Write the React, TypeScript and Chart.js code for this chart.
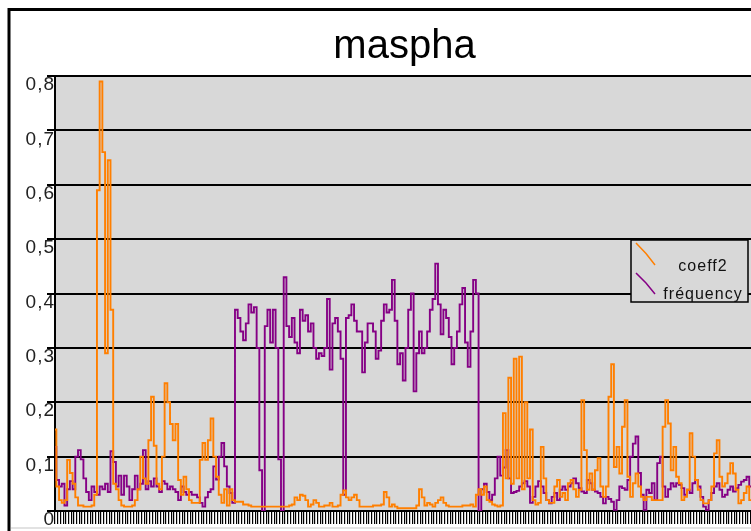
import React, { useEffect, useRef } from 'react';
import { Chart, registerables } from 'chart.js';

Chart.register(...registerables);

const chartTitle = 'maspha';
const seriesNames = ['coeff2', 'fréquency'];
const seriesColors = ['#ff7f00', '#850085'];

const yTickLabels = ['0', '0,1', '0,2', '0,3', '0,4', '0,5', '0,6', '0,7', '0,8'];

const coeff2 = [
  0.15, 0.045, 0.02, 0.015, 0.02, 0.094, 0.07, 0.05, 0.025, 0.01,
  0.01, 0.008, 0.008, 0.008, 0.01, 0.03, 0.59, 0.79, 0.66, 0.29,
  0.645, 0.37, 0.05, 0.04, 0.02, 0.01, 0.008, 0.008, 0.008, 0.01,
  0.02, 0.04, 0.1, 0.06, 0.05, 0.13, 0.21, 0.12, 0.05, 0.04,
  0.1, 0.235, 0.2, 0.16, 0.13, 0.16, 0.057, 0.03, 0.063, 0.04,
  0.02, 0.015, 0.015, 0.015, 0.094, 0.125, 0.094, 0.13, 0.17, 0.1,
  0.063, 0.03, 0.015, 0.04, 0.01, 0.04, 0.02, 0.017, 0.017, 0.017,
  0.012, 0.012, 0.01, 0.008, 0.008, 0.008, 0.008, 0.008, 0.008, 0.008,
  0.008, 0.008, 0.008, 0.008, 0.008, 0.008, 0.008, 0.01, 0.012, 0.025,
  0.02, 0.03, 0.028, 0.02, 0.008, 0.012, 0.02, 0.015, 0.008, 0.008,
  0.01, 0.01, 0.015, 0.008, 0.008, 0.01, 0.03, 0.038, 0.025, 0.02,
  0.025, 0.03, 0.02, 0.008, 0.008, 0.008, 0.008, 0.008, 0.01, 0.01,
  0.01, 0.012, 0.035, 0.025, 0.008, 0.012, 0.008, 0.005, 0.005, 0.005,
  0.005, 0.005, 0.005, 0.005, 0.01, 0.04, 0.025, 0.01, 0.015, 0.012,
  0.008, 0.015, 0.02, 0.025, 0.015, 0.01, 0.008, 0.008, 0.008, 0.008,
  0.008, 0.01, 0.01, 0.01, 0.012, 0.008, 0.03, 0.04, 0.03, 0.045,
  0.02, 0.017, 0.012, 0.01, 0.008, 0.01, 0.18, 0.06, 0.245, 0.05,
  0.28, 0.06, 0.284, 0.04, 0.2, 0.06, 0.15, 0.02, 0.012, 0.015,
  0.118, 0.06, 0.02, 0.015, 0.015, 0.045, 0.057, 0.026, 0.033, 0.02,
  0.051, 0.057, 0.04, 0.026, 0.039, 0.204, 0.112, 0.039, 0.069, 0.039,
  0.075, 0.097, 0.045, 0.026, 0.045, 0.21, 0.27, 0.081, 0.118, 0.069,
  0.155, 0.204, 0.063, 0.026, 0.051, 0.069, 0.045, 0.026, 0.02, 0.026,
  0.026, 0.02, 0.02, 0.02, 0.02, 0.155, 0.204, 0.161, 0.075, 0.118,
  0.063, 0.051, 0.02, 0.026, 0.039, 0.143, 0.1, 0.057, 0.039, 0.02,
  0.014, 0.014, 0.02, 0.045, 0.106, 0.13, 0.063, 0.045, 0.051, 0.069,
  0.088, 0.069, 0.039, 0.014, 0.02, 0.033, 0.045, 0.02, 0.039, 0.03,
];

const frequency = [
  0.118, 0.057, 0.045, 0.05, 0.01, 0.04, 0.055, 0.04, 0.1, 0.112,
  0.095, 0.06, 0.035, 0.02, 0.045, 0.035, 0.03, 0.045, 0.04, 0.05,
  0.035, 0.11, 0.09, 0.045, 0.065, 0.03, 0.065, 0.045, 0.02, 0.04,
  0.065, 0.04, 0.05, 0.112, 0.04, 0.055, 0.045, 0.06, 0.045, 0.035,
  0.055, 0.05, 0.04, 0.045, 0.04, 0.035, 0.02, 0.045, 0.035, 0.03,
  0.035, 0.03, 0.03, 0.025, 0.015, 0.008, 0.025, 0.035, 0.04, 0.082,
  0.058, 0.1, 0.125, 0.082, 0.045, 0.033, 0.015, 0.37, 0.355, 0.33,
  0.314, 0.345, 0.38, 0.365, 0.375, 0.3, 0.075, 0.0, 0.34, 0.37,
  0.31, 0.37, 0.3, 0.095, 0.0, 0.43, 0.34, 0.32, 0.355, 0.31,
  0.29, 0.37, 0.35, 0.36, 0.33, 0.345, 0.3, 0.28, 0.29, 0.285,
  0.3, 0.39, 0.26, 0.345, 0.355, 0.33, 0.28, 0.03, 0.355, 0.36,
  0.38, 0.35, 0.33, 0.33, 0.255, 0.31, 0.345, 0.345, 0.33, 0.28,
  0.295, 0.35, 0.38, 0.365, 0.37, 0.425, 0.35, 0.27, 0.29, 0.24,
  0.3, 0.37, 0.4, 0.22, 0.29, 0.33, 0.29, 0.3, 0.33, 0.37,
  0.39, 0.455, 0.38, 0.325, 0.37, 0.355, 0.32, 0.27, 0.3, 0.33,
  0.38, 0.41, 0.31, 0.265, 0.33, 0.425, 0.4, 0.0, 0.04, 0.05,
  0.035, 0.02, 0.03, 0.06, 0.1, 0.065, 0.08, 0.112, 0.06, 0.033,
  0.035, 0.037, 0.045, 0.051, 0.055, 0.045, 0.015, 0.026, 0.045, 0.055,
  0.045, 0.033, 0.02, 0.014, 0.026, 0.033, 0.02, 0.039, 0.045, 0.039,
  0.045, 0.051, 0.06, 0.051, 0.042, 0.036, 0.033, 0.057, 0.051, 0.039,
  0.036, 0.033, 0.026, 0.014, 0.026, 0.022, 0.017, 0.002, 0.02, 0.045,
  0.042, 0.039, 0.057, 0.1, 0.124, 0.137, 0.07, 0.03, 0.002, 0.039,
  0.033, 0.051, 0.02, 0.088, 0.1, 0.045, 0.026, 0.04, 0.051, 0.045,
  0.051, 0.048, 0.042, 0.03, 0.039, 0.033, 0.051, 0.057, 0.045, 0.026,
  0.008, 0.002, 0.02, 0.033, 0.045, 0.051, 0.039, 0.026, 0.03, 0.039,
  0.045, 0.036, 0.042, 0.048, 0.054, 0.057, 0.063, 0.045, 0.03, 0.04,
];

const categories = coeff2.map((_, i) => String(i + 1));

const FONT = '"Liberation Sans", Arial, Helvetica, sans-serif';
const PLOT_BG = '#d8d8d8';

// Page frame, plot background, title and the boxed legend with slanted swatches.
const decorPlugin = {
  id: 'decor',
  beforeDraw(chart: any) {
    const { ctx, width, height, chartArea: a } = chart;
    ctx.save();
    ctx.fillStyle = '#ffffff';
    ctx.fillRect(0, 0, width, height);
    ctx.strokeStyle = '#000';
    ctx.lineWidth = 3;
    ctx.beginPath();
    ctx.moveTo(9, height);
    ctx.lineTo(9, 9.5);
    ctx.lineTo(width, 9.5);
    ctx.stroke();
    ctx.strokeStyle = '#e2e2e2';
    ctx.lineWidth = 2;
    ctx.beginPath();
    ctx.moveTo(11, 528);
    ctx.lineTo(width, 528);
    ctx.stroke();
    ctx.fillStyle = PLOT_BG;
    ctx.fillRect(a.left, a.top, a.right - a.left, a.bottom - a.top);
    ctx.restore();
    ctx.letterSpacing = '1px';
  },
  beforeDatasetsDraw(chart: any) {
    chart.ctx.letterSpacing = '0px';
  },
  afterDraw(chart: any) {
    const { ctx } = chart;
    ctx.save();
    ctx.letterSpacing = '0px';
    ctx.fillStyle = '#000';
    ctx.font = `40px ${FONT}`;
    ctx.textAlign = 'center';
    ctx.textBaseline = 'alphabetic';
    ctx.fillText(chartTitle, 404.5, 58);

    // legend box
    const bx = 631, by = 240, bw = 117, bh = 62;
    ctx.fillStyle = PLOT_BG;
    ctx.fillRect(bx, by, bw, bh);
    ctx.strokeStyle = '#000';
    ctx.lineWidth = 1.5;
    ctx.strokeRect(bx, by, bw, bh);

    const rows = [
      { y0: 243, y1: 265, base: 271 },
      { y0: 273, y1: 294, base: 299 },
    ];
    ctx.font = `16px ${FONT}`;
    ctx.letterSpacing = '1px';
    rows.forEach((r, i) => {
      ctx.strokeStyle = seriesColors[i];
      ctx.lineWidth = 1.5;
      ctx.beginPath();
      ctx.moveTo(636, r.y0);
      ctx.lineTo(646, r.y0 + (r.y1 - r.y0) * 0.48);
      ctx.lineTo(655, r.y1);
      ctx.stroke();
      ctx.fillStyle = '#111';
      ctx.textAlign = 'center';
      ctx.fillText(seriesNames[i], 703, r.base);
    });
    ctx.restore();
  },
};

export default function App() {
  const canvasRef = useRef<HTMLCanvasElement | null>(null);

  useEffect(() => {
    const canvas = canvasRef.current;
    if (!canvas) return;
    const chart = new Chart(canvas, {
      type: 'line',
      data: {
        labels: categories,
        datasets: [
          {
            label: seriesNames[0],
            data: coeff2,
            borderColor: seriesColors[0],
            backgroundColor: seriesColors[0],
            borderWidth: 1.9,
            pointRadius: 0,
            stepped: 'middle',
            fill: false,
          },
          {
            label: seriesNames[1],
            data: frequency,
            borderColor: seriesColors[1],
            backgroundColor: seriesColors[1],
            borderWidth: 1.9,
            pointRadius: 0,
            stepped: 'middle',
            fill: false,
          },
        ],
      },
      options: {
        responsive: false,
        animation: false,
        events: [],
        layout: { padding: { top: 76, left: 0, right: 2, bottom: 0 } },
        plugins: {
          legend: { display: false },
          title: { display: false },
          tooltip: { enabled: false },
        },
        scales: {
          x: {
            type: 'category',
            afterFit(s: any) {
              s.height = 20;
            },
            ticks: { display: false, autoSkip: false },
            grid: {
              drawOnChartArea: false,
              drawTicks: true,
              tickLength: 13,
              color: '#000',
              lineWidth: 1.2,
              offset: false,
            },
            border: { color: '#000', width: 2 },
          },
          y: {
            min: 0,
            max: 0.8,
            afterFit(s: any) {
              s.width = 55;
            },
            ticks: {
              stepSize: 0.1,
              callback: (v: any) => yTickLabels[Math.round(Number(v) * 10)],
              font: { family: FONT, size: 19 },
              color: '#222',
              padding: -8,
              labelOffset: 9,
            },
            grid: { color: '#000', lineWidth: 2, tickLength: 8, drawTicks: true },
            border: { color: '#000', width: 2 },
          },
        },
      },
      plugins: [decorPlugin],
    });
    return () => chart.destroy();
  }, []);

  return (
    <div
      style={{
        position: 'fixed',
        left: 0,
        top: 0,
        width: 751,
        height: 531,
        overflow: 'hidden',
        background: '#fff',
      }}
    >
      <canvas ref={canvasRef} width={758} height={531} style={{ display: 'block' }} />
    </div>
  );
}
